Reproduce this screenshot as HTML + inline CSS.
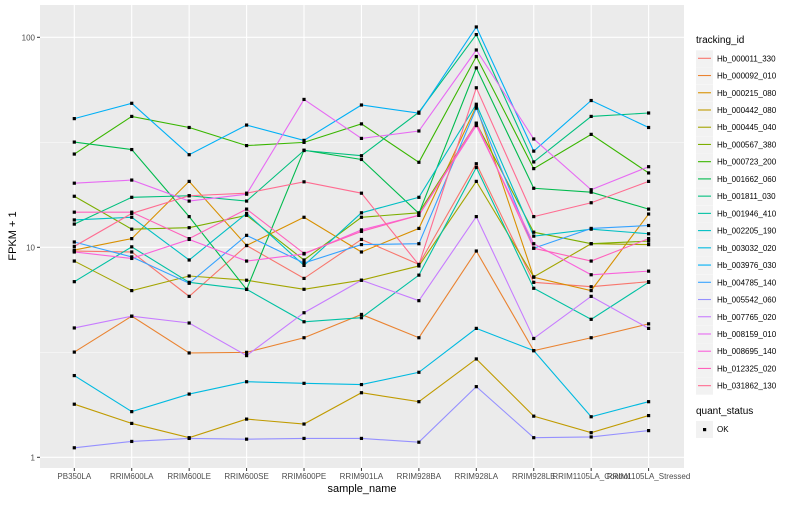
<!DOCTYPE html>
<html><head><meta charset="utf-8"><style>
body{margin:0;background:#fff;font-family:"Liberation Sans",sans-serif}
svg text{font-family:"Liberation Sans",sans-serif}
</style></head><body>
<svg id="chart" width="800" height="500" xmlns="http://www.w3.org/2000/svg">
<rect x="40" y="5" width="644" height="463" fill="#ebebeb"/>
<g id="grid"></g>
<g id="lines"></g>
<g id="axes"></g>
<text x="362" y="492" font-size="11" text-anchor="middle" fill="#000">sample_name</text>
<text transform="translate(16,236) rotate(-90)" font-size="11" text-anchor="middle" fill="#000">FPKM + 1</text>
<g id="legend"></g>
</svg>
<script>
const categories=["PB350LA","RRIM600LA","RRIM600LE","RRIM600SE","RRIM600PE","RRIM901LA","RRIM928BA","RRIM928LA","RRIM928LE","RRIM1105LA_Control","RRIM1105LA_Stressed"];
const seriesNames=["Hb_000011_330","Hb_000092_010","Hb_000215_080","Hb_000442_080","Hb_000445_040","Hb_000567_380","Hb_000723_200","Hb_001662_060","Hb_001811_030","Hb_001946_410","Hb_002205_190","Hb_003032_020","Hb_003976_030","Hb_004785_140","Hb_005542_060","Hb_007765_020","Hb_008159_010","Hb_008695_140","Hb_012325_020","Hb_031862_130"];
const seriesColors=["#F8766D","#EA8331","#D89000","#C09B00","#A3A500","#7CAE00","#39B600","#00BB4E","#00BF7D","#00C1A3","#00BFC4","#00BAE0","#00B0F6","#35A2FF","#9590FF","#C77CFF","#E76BF3","#FA62DB","#FF62BC","#FF6C91"];
const s01=[9.6,9.5,5.84,10.2,7.11,10.9,8.29,25,6.81,6.49,6.86];
const s02=[3.17,4.7,3.14,3.16,3.71,4.79,3.71,9.6,3.22,3.71,4.32];
const s03=[9.7,11.0,20.6,10.2,13.9,9.5,12.3,47,7.2,6.22,14.4];
const s04=[1.79,1.45,1.24,1.52,1.44,2.03,1.84,2.94,1.57,1.31,1.58];
const s05=[8.6,6.22,7.3,6.97,6.31,6.97,8.15,20.6,7.23,10.4,10.3];
const s06=[17.5,12.2,12.4,14.2,8.7,13.9,14.6,39,11.8,10.4,10.7];
const s07=[27.8,42,37.2,30.5,31.6,38.7,25.4,81,23.7,34.5,22.6];
const s08=[31.7,29.2,14,6.3,29,26.2,14.5,71.5,19.1,18.3,15.2];
const s09=[12.9,17.3,17.6,16.6,28.9,27.3,44,103,25.5,42,43.6];
const s10=[6.86,10.05,6.81,6.31,4.42,4.62,7.37,24,6.38,4.54,6.81];
const s11=[13.5,13.9,8.7,14.5,8.2,14.6,17.3,48,11.3,12.2,11.6];
const s12=[2.45,1.65,2.0,2.29,2.25,2.22,2.54,4.11,3.22,1.56,1.84];
const s13=[41,48.5,27.6,38.2,32.3,47.6,43.5,112,28.7,50,37.2];
const s14=[10.6,9.0,6.74,11.4,8.42,10.3,10.4,46,9.9,12.3,12.7];
const s15=[1.11,1.19,1.23,1.22,1.23,1.23,1.18,2.17,1.24,1.25,1.34];
const s16=[4.13,4.7,4.36,3.05,4.88,6.97,5.57,14,3.68,5.84,4.11];
const s17=[20.2,20.9,16.6,17.9,50.6,33,35.8,87,32.8,18.8,24.2];
const s18=[9.5,8.85,10.9,8.6,9.3,12.1,14.2,38,10.4,7.4,7.7];
const s19=[14.7,14.7,11.0,15.2,9.35,11.9,14.2,39,9.9,8.6,11.0];
const s20=[10.1,14.5,17.6,18.1,20.5,18.1,8.25,57.5,14.0,16.3,20.6];
const seriesValues=[s01,s02,s03,s04,s05,s06,s07,s08,s09,s10,s11,s12,s13,s14,s15,s16,s17,s18,s19,s20];
const yTicks=[1,10,100];
const yMinor=[Math.sqrt(10),Math.sqrt(1000)];

const NS="http://www.w3.org/2000/svg";
function xPos(i){return 74.3+57.43*i;}
function yPos(v){return 457.3-210*Math.log10(v);}
function mk(tag,attrs,parent){const e=document.createElementNS(NS,tag);for(const k in attrs)e.setAttribute(k,attrs[k]);parent.appendChild(e);return e;}
const grid=document.getElementById('grid'),lines=document.getElementById('lines'),axes=document.getElementById('axes'),legend=document.getElementById('legend');
yMinor.forEach(v=>{const l=mk('line',{x1:40,x2:684,y1:yPos(v),y2:yPos(v),stroke:'#fff','stroke-width':0.5},grid);

});
yTicks.forEach(v=>{const l=mk('line',{x1:40,x2:684,y1:yPos(v),y2:yPos(v),stroke:'#fff','stroke-width':1.1},grid);


const t=mk('line',{x1:37,x2:40,y1:yPos(v),y2:yPos(v),stroke:'#333','stroke-width':1},axes);


const tx=mk('text',{x:35,y:yPos(v)+3,'font-size':8,'text-anchor':'end',fill:'#4d4d4d'},axes);tx.textContent=String(v);

});
categories.forEach((c,i)=>{const l=mk('line',{x1:xPos(i),x2:xPos(i),y1:5,y2:468,stroke:'#fff','stroke-width':1.1},grid);


const t=mk('line',{x1:xPos(i),x2:xPos(i),y1:468,y2:471,stroke:'#333','stroke-width':1},axes);


const tx=mk('text',{x:xPos(i),y:479,'font-size':8,'text-anchor':'middle',fill:'#4d4d4d'},axes);tx.textContent=c;

});
seriesValues.forEach((vals,si)=>{const g=mk('g',{},lines);


const p=mk('polyline',{points:vals.map((v,i)=>xPos(i)+','+yPos(v)).join(' '),fill:'none',stroke:seriesColors[si],'stroke-width':1.1},g);

});
seriesValues.forEach((vals,si)=>{vals.forEach((v,i)=>{const r=mk('rect',{x:xPos(i)-1.6,y:yPos(v)-1.6,width:3.2,height:3.2,fill:'#000'},lines);

});});
const lt=mk('text',{x:696,y:43,'font-size':10,fill:'#000'},legend);lt.textContent='tracking_id';


seriesNames.forEach((n,i)=>{const y=58.3+17.23*i;const g=mk('g',{},legend);


mk('rect',{x:696,y:y-8,width:17,height:17,fill:'#f2f2f2'},g);
mk('line',{x1:698,x2:711,y1:y,y2:y,stroke:seriesColors[i],'stroke-width':1.1},g);
const t=mk('text',{x:717,y:y+3,'font-size':8,fill:'#000'},g);t.textContent=n;});
const qt=mk('text',{x:696,y:414,'font-size':10,fill:'#000'},legend);qt.textContent='quant_status';


const qg=mk('g',{},legend);


mk('rect',{x:696,y:421,width:17,height:17,fill:'#f2f2f2'},qg);
mk('rect',{x:703,y:428,width:3.2,height:3.2,fill:'#000'},qg);
const ok=mk('text',{x:717,y:432,'font-size':8,fill:'#000'},qg);ok.textContent='OK';
</script>
</body></html>
